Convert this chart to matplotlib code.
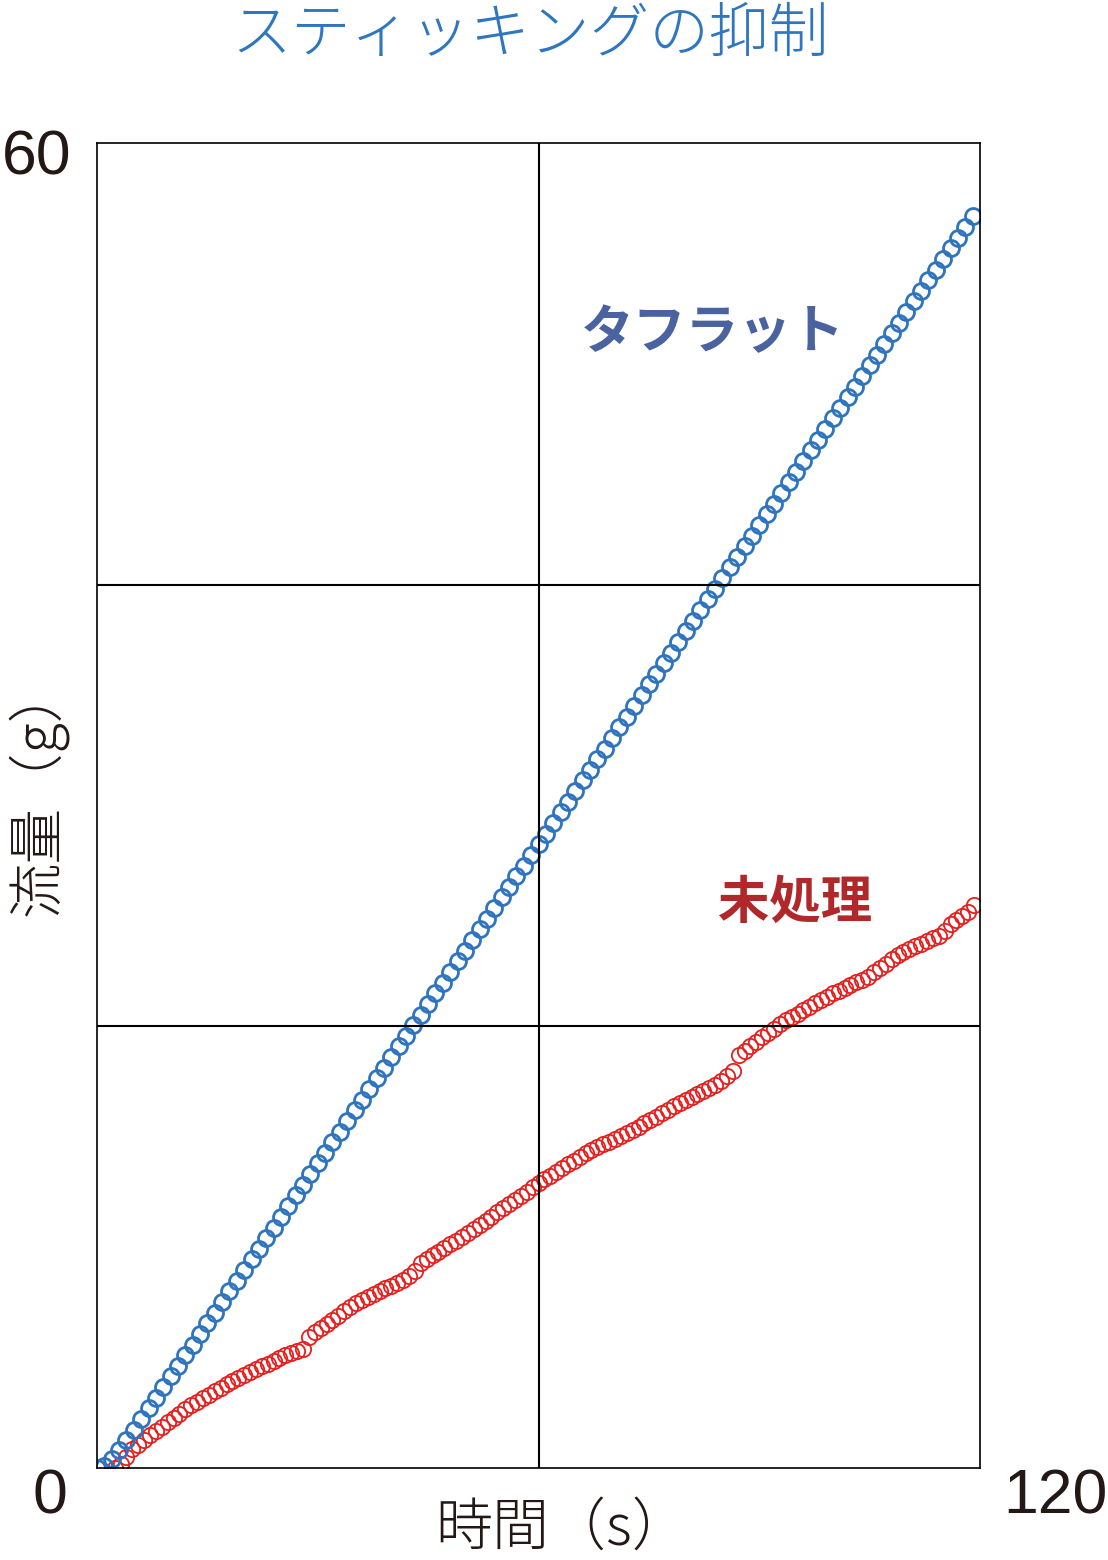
import numpy as np
import matplotlib.pyplot as plt

plt.rcParams['font.family'] = ['Noto Sans CJK JP', 'DejaVu Sans']

# タフラット: 1 s sampling, grams
tough_g = [0.0, 0.1, 0.4, 0.8, 1.25, 1.74, 2.22, 2.70, 3.18, 3.66,
           4.15, 4.63, 5.11, 5.59, 6.07, 6.56, 7.04, 7.52, 8.00, 8.48,
           8.97, 9.45, 9.93, 10.41, 10.89, 11.38, 11.86, 12.34, 12.82, 13.30,
           13.79, 14.27, 14.75, 15.23, 15.71, 16.20, 16.68, 17.16, 17.64, 18.12,
           18.61, 19.09, 19.57, 20.05, 20.53, 21.02, 21.50, 21.98, 22.46, 22.94,
           23.43, 23.91, 24.39, 24.87, 25.35, 25.84, 26.32, 26.80, 27.28, 27.76,
           28.25, 28.73, 29.21, 29.69, 30.17, 30.66, 31.14, 31.62, 32.10, 32.58,
           33.07, 33.55, 34.03, 34.51, 34.99, 35.48, 35.96, 36.44, 36.92, 37.40,
           37.89, 38.37, 38.85, 39.33, 39.81, 40.30, 40.78, 41.26, 41.74, 42.22,
           42.71, 43.19, 43.67, 44.15, 44.63, 45.12, 45.60, 46.08, 46.56, 47.04,
           47.53, 48.01, 48.49, 48.97, 49.45, 49.94, 50.42, 50.90, 51.38, 51.86,
           52.35, 52.83, 53.31, 53.79, 54.27, 54.76, 55.24, 55.72, 56.20, 56.68]
tough_t = np.arange(len(tough_g))

# 未処理: 0.8 s sampling from 2.4 s, grams
raw_g = [0.0, 0.2, 0.5, 0.85, 1.05, 1.28, 1.48, 1.68, 1.87, 2.07,
         2.26, 2.46, 2.65, 2.84, 3.0, 3.16, 3.32, 3.48, 3.64, 3.79,
         3.93, 4.07, 4.2, 4.34, 4.48, 4.61, 4.73, 4.86, 4.98, 5.11,
         5.22, 5.31, 5.4, 5.95, 6.14, 6.33, 6.52, 6.71, 6.9, 7.1,
         7.29, 7.48, 7.61, 7.74, 7.87, 8.0, 8.13, 8.26, 8.39, 8.52,
         8.68, 8.9, 9.3, 9.47, 9.63, 9.8, 9.96, 10.13, 10.29, 10.46,
         10.62, 10.81, 11.0, 11.19, 11.38, 11.57, 11.76, 11.95, 12.14, 12.33,
         12.52, 12.71, 12.9, 13.07, 13.24, 13.41, 13.58, 13.75, 13.92, 14.09,
         14.26, 14.4, 14.53, 14.65, 14.78, 14.91, 15.04, 15.17, 15.3, 15.45,
         15.61, 15.76, 15.91, 16.07, 16.22, 16.37, 16.52, 16.67, 16.8, 16.94,
         17.08, 17.21, 17.35, 17.54, 17.77, 18.0, 18.7, 18.9, 19.1, 19.3,
         19.5, 19.7, 19.9, 20.1, 20.28, 20.43, 20.58, 20.73, 20.89, 21.04,
         21.19, 21.35, 21.5, 21.62, 21.74, 21.87, 21.99, 22.11, 22.25, 22.44,
         22.64, 22.84, 23.03, 23.23, 23.38, 23.5, 23.63, 23.75, 23.88, 24.0,
         24.11, 24.3, 24.64, 24.8, 24.99, 25.2, 25.5]
raw_t = 2.4 + 0.8 * np.arange(len(raw_g))

x_max = 120
y_max = 60

fig = plt.figure(figsize=(11.08, 15.6), dpi=100)
ax = fig.add_axes([97 / 1108, 92 / 1560, 883 / 1108, 1325 / 1560])

ax.plot(raw_t, raw_g, 'o', mfc='none', mec='#e5201e', ms=11, mew=1.3, zorder=2)
ax.plot(tough_t, tough_g, 'o', mfc='none', mec='#2e74bf', ms=11.5, mew=2.0, zorder=2.5)

# grid lines
ax.axvline(60, color='black', lw=1.5, zorder=3)
for yv in (20, 40):
    ax.axhline(yv, color='black', lw=1.5, zorder=3)

ax.set_xlim(0, x_max)
ax.set_ylim(0, y_max)
ax.set_xticks([])
ax.set_yticks([])
for s in ax.spines.values():
    s.set_linewidth(1.2)

num_font = ['Liberation Sans Narrow', 'Liberation Sans']
fig.text(37 / 1108, 1 - 158 / 1560, '60', fontsize=45, family=num_font,
         ha='center', va='center', color='#231815')
fig.text(50 / 1108, 1 - 1497 / 1560, '0', fontsize=45, family=num_font,
         ha='center', va='center', color='#231815')
fig.text(1055 / 1108, 1 - 1497 / 1560, '120', fontsize=45, family=num_font,
         ha='center', va='center', color='#231815')

fig.text(562 / 1108, 1 - 1528 / 1560, '時間（s）', fontsize=41, fontweight='light',
         ha='center', va='center', color='#231815')
fig.text(37 / 1108, 1 - 790 / 1560, '流量（g）', fontsize=40, fontweight='light',
         rotation=90, ha='center', va='center', color='#231815')

fig.text(713 / 1108, 1 - 333 / 1560, 'タフラット', fontsize=38, fontweight='bold',
         ha='center', va='center', color='#4a62a0')
fig.text(795 / 1108, 1 - 902 / 1560, '未処理', fontsize=37, fontweight='bold',
         ha='center', va='center', color='#b0282a')

fig.text(530 / 1108, 1 - 35 / 1560, 'スティッキングの抑制', fontsize=43, fontweight='light',
         ha='center', va='center', color='#2f76c0')

fig.savefig('out.png', dpi=100)
